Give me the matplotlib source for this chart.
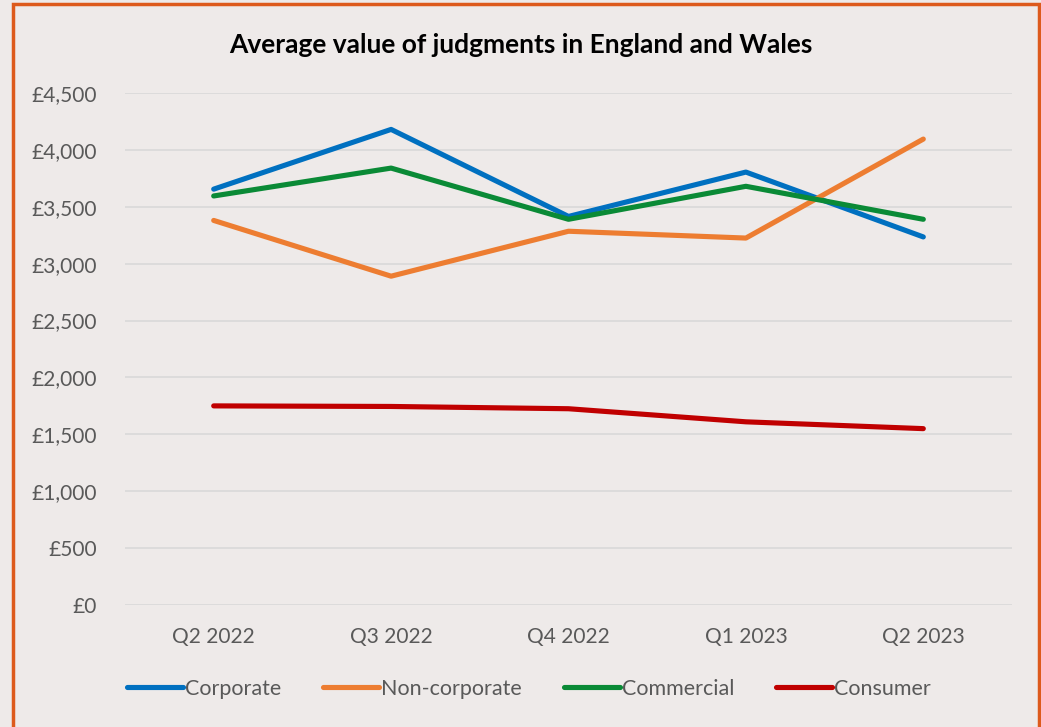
import matplotlib.pyplot as plt
from matplotlib.patches import Rectangle
from matplotlib.ticker import FuncFormatter

quarters = ["Q2 2022", "Q3 2022", "Q4 2022", "Q1 2023", "Q2 2023"]
corporate = [3655, 4180, 3415, 3805, 3235]
non_corporate = [3380, 2890, 3285, 3225, 4095]
commercial = [3595, 3840, 3390, 3680, 3390]
consumer = [1750, 1745, 1725, 1610, 1550]

series = [
    ("Corporate", corporate, "#0070C0"),
    ("Non-corporate", non_corporate, "#ED7D31"),
    ("Commercial", commercial, "#0A8A36"),
    ("Consumer", consumer, "#C00000"),
]

bg = "#EEEAE9"
text_col = "#595959"
plt.rcParams['font.family'] = ['Lato', 'DejaVu Sans']

fig = plt.figure(figsize=(10.41, 7.27), dpi=100, facecolor=bg)
ax = fig.add_axes([125 / 1041, 1 - 605 / 727, 887 / 1041, 512 / 727])
ax.set_facecolor(bg)

x = range(len(quarters))
for name, vals, col in series:
    ax.plot(x, vals, color=col, lw=3.7, label=name, solid_capstyle='round', solid_joinstyle='round')

ax.set_xlim(-0.5, len(quarters) - 0.5)
ax.set_ylim(0, 4500)
ax.set_yticks(range(0, 4501, 500))
ax.yaxis.set_major_formatter(FuncFormatter(lambda v, p: f"£{int(v):,}"))
ax.set_xticks(list(x))
ax.set_xticklabels(quarters)
ax.grid(axis='y', color='#D9D9D9', lw=1.2)
ax.set_axisbelow(True)
for s in ax.spines.values():
    s.set_visible(False)
ax.tick_params(length=0, labelsize=15, colors=text_col)
ax.tick_params(axis='x', pad=16)
ax.tick_params(axis='y', pad=20)

fig.text(0.5, 1 - 45 / 727, "Average value of judgments in England and Wales",
         ha='center', va='center', fontsize=19, fontweight='bold', color='black')

leg = fig.legend(loc='center', bbox_to_anchor=(0.508, 1 - 689 / 727), ncol=4, frameon=False,
                 fontsize=15.5, handlelength=2.6, handletextpad=0.1, columnspacing=1.95)
for t in leg.get_texts():
    t.set_color(text_col)

fig.patches.append(Rectangle((13 / 1041, -0.01), 1026 / 1041, 1 - 4 / 727 + 0.01,
                             transform=fig.transFigure, fill=False, edgecolor='#DD5A1C', lw=2.5))

fig.savefig("out.png", dpi=100, facecolor=bg)
